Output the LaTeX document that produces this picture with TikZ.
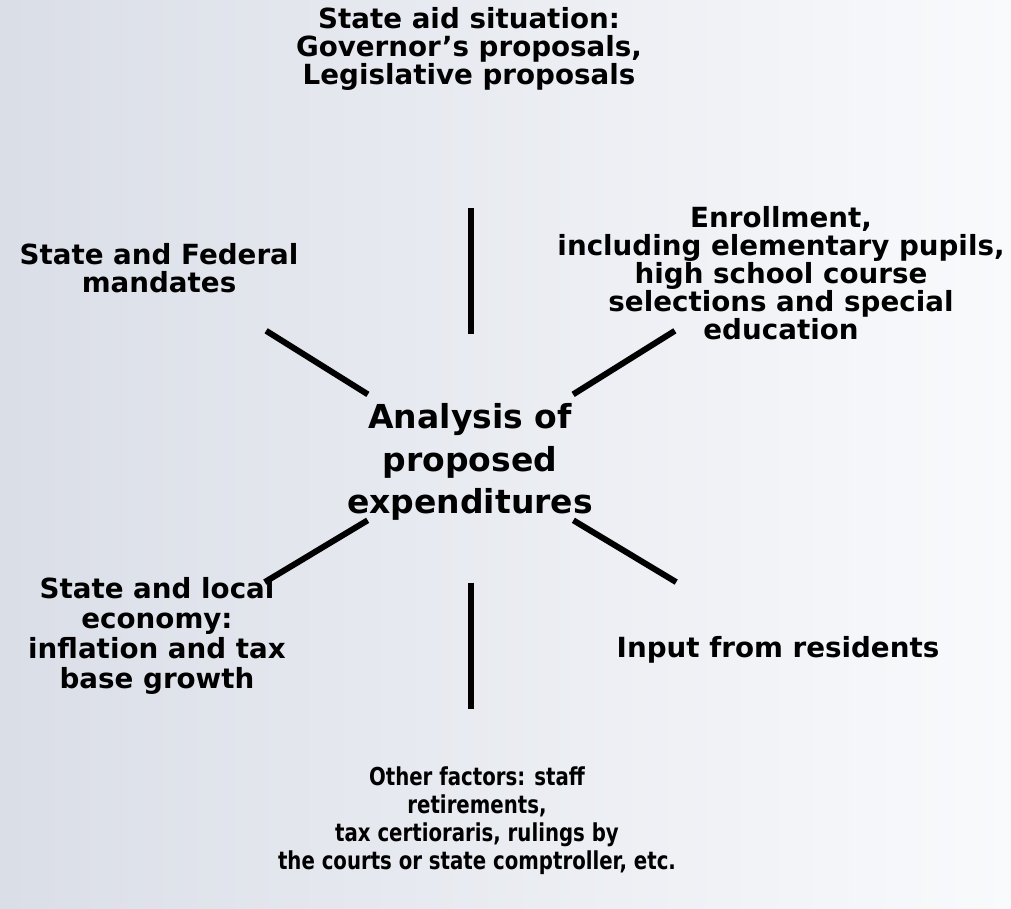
\documentclass[tikz,border=0pt]{standalone}
\usepackage{fontspec}
\setmainfont{DejaVu Sans}
\newfontfamily\narrowsans[FakeStretch=0.8]{DejaVu Sans}
\definecolor{paneleft}{HTML}{DADEE7}
\definecolor{paneright}{HTML}{F9FAFC}
\tikzset{factor/.style={align=center,
                        inner sep=0pt,
                        font=\fontsize{20.8}{21}\selectfont\bfseries},
         wide factor/.style={factor,
                        font=\fontsize{20.8}{22.5}\selectfont\bfseries},
         small factor/.style={factor,
                        font=\narrowsans\fontsize{18.5}{21}\selectfont\bfseries},
         hub text/.style={align=center,
                        inner sep=0pt,
                        font=\fontsize{24.75}{32}\selectfont\bfseries},
         spoke/.style={draw=black,line width=4.5pt}}

\begin{document}
\begin{tikzpicture}[x=0.75pt,y=-0.75pt]
    \fill[left color=paneleft,right color=paneright] (0,0) rectangle (1011,908);
    \useasboundingbox (0,0) rectangle (1011,908);

    \coordinate (hub) at (470.5,458.5);
    \node[hub text] (analysis) at (470,462) {Analysis of\\proposed\\expenditures};

    % the six factors round the hub
    \node[factor] (stateaid) at (469,49) {State aid situation:\\Governor’s proposals,\\Legislative proposals};
    \node[factor] (mandates) at (159,268) {State and Federal\\mandates};
    \node[factor] (enrollment) at (781,273) {Enrollment,\\including elementary pupils,\\high school course\\selections and special\\education};
    \node[wide factor] (economy) at (157,636) {State and local\\economy:\\inflation and tax\\base growth};
    \node[factor] (residents) at (778,650) {Input from residents};
    \node[small factor] (other) at (477,821) {Other factors: staff\\retirements,\\tax certioraris, rulings by\\the courts or state comptroller, etc.};

    % spokes
    \path \foreach \i/\a/\rin/\rout in {0/270/125/251, 1/328/121/241, 2/31/120/240,
                                        3/90/124/250, 4/149/120/240, 5/212/121/241}{%
      ([shift={(\a:\rin)}]hub) coordinate (in\i)
      ([shift={(\a:\rout)}]hub) coordinate (out\i)}
      ;
    \foreach \i in {0,...,5}
      \draw[spoke] (in\i) -- (out\i);
\end{tikzpicture}
\end{document}
